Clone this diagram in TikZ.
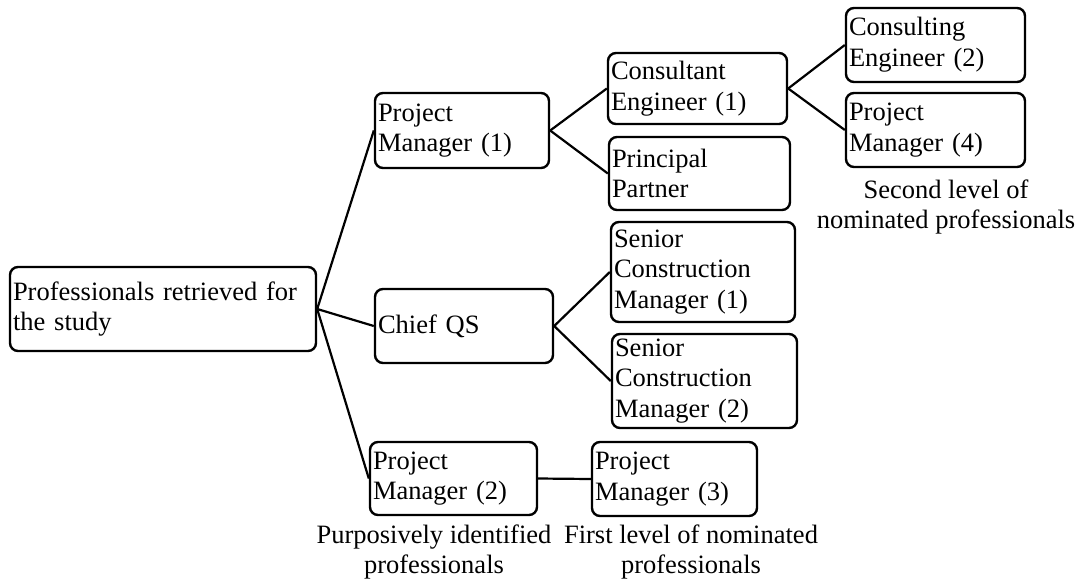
\documentclass[tikz,border=0pt]{standalone}
\usepackage{fontspec}
\setmainfont{Liberation Serif}
\begin{document}
\begin{tikzpicture}[x=1pt,y=-1pt,
  txt/.style={font=\fontsize{26.5}{30.7}\selectfont},
  box/.style={txt, draw, line width=2.4pt, rounded corners=8pt,
    inner xsep=3pt, inner ysep=0pt, align=left},
  link/.style={line width=2.2pt},
  lbl/.style={txt, inner sep=0pt, align=center}]
\useasboundingbox (0,0) rectangle (1078,584);

% root
\node[box, minimum width=306pt, minimum height=84pt, text width=300pt] (root) at (163,309)
  {Professionals retrieved for\\the study};

% purposively identified professionals
\node[box, minimum width=174pt, minimum height=75pt, text width=168pt] (pm1) at (462,130.5)
  {Project\\Manager (1)};
\node[box, minimum width=178pt, minimum height=74pt, text width=172pt] (cqs) at (464,326)
  {Chief QS};
\node[box, minimum width=167pt, minimum height=73pt, text width=161pt] (pm2) at (453.5,478.5)
  {Project\\Manager (2)};

% first level of nominations
\node[box, minimum width=179pt, minimum height=71pt, text width=173pt] (ce1) at (697.5,88.5)
  {Consultant\\Engineer (1)};
\node[box, minimum width=181pt, minimum height=73pt, text width=175pt] (pp) at (699.5,173.5)
  {Principal\\Partner};
\node[box, minimum width=184pt, minimum height=100pt, text width=178pt] (scm1) at (703,272)
  {Senior\\Construction\\Manager (1)};
\node[box, minimum width=185pt, minimum height=94pt, text width=179pt] (scm2) at (704.5,381)
  {Senior\\Construction\\Manager (2)};
\node[box, minimum width=165pt, minimum height=74pt, text width=159pt] (pm3) at (674.5,479)
  {Project\\Manager (3)};

% second level of nominations
\node[box, minimum width=179pt, minimum height=74pt, text width=173pt] (ce2) at (935.5,45)
  {Consulting\\Engineer (2)};
\node[box, minimum width=179pt, minimum height=74pt, text width=173pt] (pm4) at (935.5,130)
  {Project\\Manager (4)};

% captions
\node[lbl] (capA) at (434,552) {Purposively identified\\professionals};
\node[lbl] (capB) at (691,552) {First level of nominated\\professionals};
\node[lbl] (capC) at (946,207) {Second level of\\nominated professionals};

% connectors
\draw[link] (root.east) -- (pm1.west);
\draw[link] (root.east) -- (cqs.west);
\draw[link] (root.east) -- (pm2.west);
\draw[link] (pm1.east) -- (ce1.west);
\draw[link] (pm1.east) -- (pp.west);
\draw[link] (ce1.east) -- (ce2.west);
\draw[link] (ce1.east) -- (pm4.west);
\draw[link] (cqs.east) -- (scm1.west);
\draw[link] (cqs.east) -- (scm2.west);
\draw[link] (pm2.east) -- (pm3.west);
\end{tikzpicture}
\end{document}
